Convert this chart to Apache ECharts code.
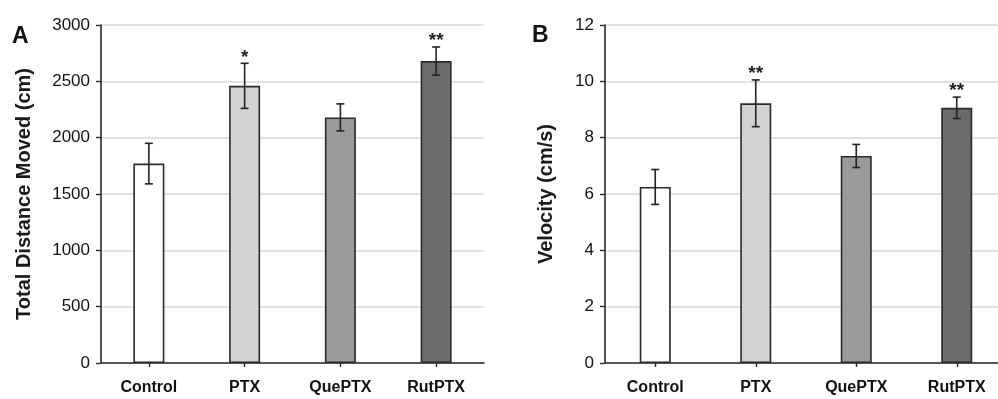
<!DOCTYPE html>
<html>
<head>
<meta charset="utf-8">
<script src="https://cdn.jsdelivr.net/npm/echarts@6/dist/echarts.min.js"></script>
<style>
html, body { margin: 0; padding: 0; background: #fff; }
#main { width: 998px; height: 399px; }
</style>
</head>
<body>
<div id="main"></div>
<script>
// data
const categories = ['Control', 'PTX', 'QuePTX', 'RutPTX']
const distanceMean = [1770, 2460, 2180, 2680]
const distanceErr = [180, 200, 120, 125]
const distanceStars = ['', '*', '', '**']
const distanceTicks = [0, 500, 1000, 1500, 2000, 2500, 3000]
const velocityMean = [6.25, 9.22, 7.35, 9.06]
const velocityErr = [0.62, 0.83, 0.41, 0.38]
const velocityStars = ['', '**', '', '**']
const velocityTicks = [0, 2, 4, 6, 8, 10, 12]

const barColors = ['#ffffff', '#d2d2d2', '#9a9a9a', '#6b6b6b']
const narrow = '"Liberation Sans Narrow", "Liberation Sans", Arial, sans-serif'

const chart = echarts.init(document.getElementById('main'))

function errorSeries (idx, mean, err, stars) {
  return {
    type: 'custom',
    xAxisIndex: idx,
    yAxisIndex: idx,
    z: 5,
    data: mean.map((m, i) => [i, m, err[i]]),
    renderItem: function (params, api) {
      const i = api.value(0)
      const m = api.value(1)
      const e = api.value(2)
      const top = api.coord([i, m + e])
      const bot = api.coord([i, m - e])
      const w = 4
      const style = { stroke: '#222', lineWidth: 1.6 }
      const children = [
        { type: 'line', shape: { x1: top[0], y1: top[1], x2: bot[0], y2: bot[1] }, style: style },
        { type: 'line', shape: { x1: top[0] - w, y1: top[1], x2: top[0] + w, y2: top[1] }, style: style },
        { type: 'line', shape: { x1: bot[0] - w, y1: bot[1], x2: bot[0] + w, y2: bot[1] }, style: style }
      ]
      const s = stars[params.dataIndex]
      if (s) {
        children.push({
          type: 'text',
          style: {
            text: s,
            x: top[0],
            y: top[1] - 6,
            align: 'center',
            verticalAlign: 'middle',
            font: 'bold 19px "Liberation Sans", Arial, sans-serif',
            fill: '#222'
          }
        })
      }
      return { type: 'group', children: children }
    }
  }
}

function yAx (idx, ticks, name, gap) {
  return {
    type: 'value',
    gridIndex: idx,
    min: ticks[0],
    max: ticks[ticks.length - 1],
    interval: ticks[1] - ticks[0],
    name: name,
    nameLocation: 'middle',
    nameGap: gap,
    nameTextStyle: { fontFamily: narrow, fontWeight: 'bold', fontSize: 20, color: '#1a1a1a' },
    axisLine: { show: true, lineStyle: { color: '#2a2a2a', width: 1.6 } },
    axisTick: { show: true, length: 5, lineStyle: { color: '#2a2a2a', width: 1.4 } },
    axisLabel: {
      fontFamily: narrow,
      fontSize: 17,
      color: '#111',
      margin: 11,
      formatter: v => String(v)
    },
    splitLine: { show: true, lineStyle: { color: '#d9d9d9', width: 1.5 } }
  }
}

function xAx (idx) {
  return {
    type: 'category',
    gridIndex: idx,
    data: categories,
    axisLine: { lineStyle: { color: '#2a2a2a', width: 1.6 } },
    axisTick: { show: true, alignWithLabel: true, length: 4, lineStyle: { color: '#2a2a2a', width: 1.4 } },
    axisLabel: { fontFamily: narrow, fontWeight: 'bold', fontSize: 16, color: '#111', margin: 17 }
  }
}

function bars (idx, mean) {
  return {
    type: 'bar',
    xAxisIndex: idx,
    yAxisIndex: idx,
    barWidth: 31,
    data: mean.map((m, i) => ({
      value: m,
      itemStyle: { color: barColors[i], borderColor: '#2a2a2a', borderWidth: 1.6 }
    }))
  }
}

const option = {
  backgroundColor: '#fff',
  animation: false,
  grid: [
    { left: 101, top: 25, width: 383, height: 338, outerBoundsMode: 'none' },
    { left: 605, top: 25, width: 402, height: 338, outerBoundsMode: 'none' }
  ],
  xAxis: [xAx(0), xAx(1)],
  yAxis: [
    yAx(0, distanceTicks, 'Total Distance Moved (cm)', 67),
    yAx(1, velocityTicks, 'Velocity (cm/s)', 49)
  ],
  graphic: [
    { type: 'text', left: 12, top: 25, style: { text: 'A', font: 'bold 23px "Liberation Sans", Arial, sans-serif', fill: '#111' } },
    { type: 'text', left: 532, top: 24, style: { text: 'B', font: 'bold 23px "Liberation Sans", Arial, sans-serif', fill: '#111' } }
  ],
  series: [
    bars(0, distanceMean),
    errorSeries(0, distanceMean, distanceErr, distanceStars),
    bars(1, velocityMean),
    errorSeries(1, velocityMean, velocityErr, velocityStars)
  ]
}

chart.setOption(option)
window.addEventListener('resize', () => {
  chart.resize()
})
</script>
</body>
</html>
